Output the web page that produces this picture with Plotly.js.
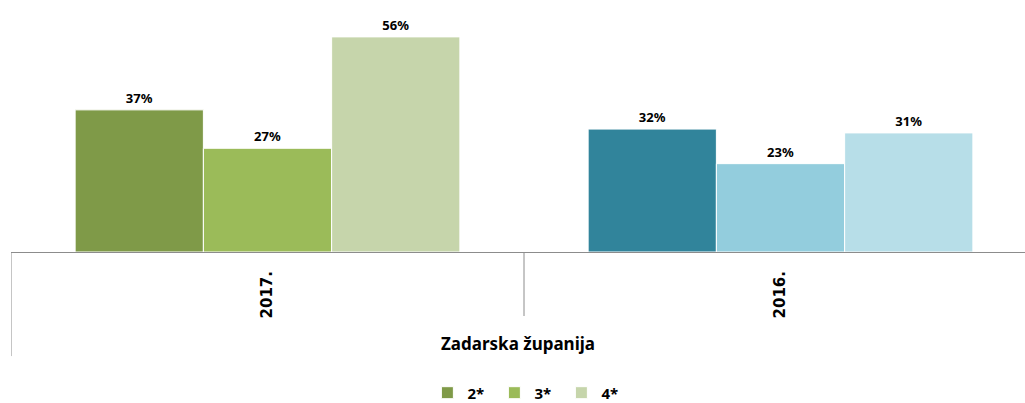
<!DOCTYPE html>
<html>
<head>
<meta charset="utf-8">
<script src="https://cdn.plot.ly/plotly-3.0.1.min.js"></script>
<style>html,body{margin:0;padding:0;background:#fff;}#chart{width:1025px;height:403px;}</style>
</head>
<body>
<div id="chart"></div>
<script>
// ---- data ----
const years = ['2017.', '2016.'];
const region = 'Zadarska županija';
const seriesNames = ['2*', '3*', '4*'];
const s2 = [37, 32];
const s3 = [27, 23];
const s4 = [56, 31];

// ---- styles ----
const colors2 = ['#7F9A48', '#31849B'];
const colors3 = ['#9BBB59', '#93CDDD'];
const colors4 = ['#C6D5AB', '#B7DEE8'];

const labelFont = {family: 'Noto Sans, Open Sans, sans-serif', size: 13, color: '#000', weight: 'bold'};

function mk(name, vals, cols) {
  return {
    type: 'bar', name: name, x: years, y: vals,
    marker: {color: cols, line: {color: '#ffffff', width: 1}},
    text: vals.map(v => v + '%'), textposition: 'outside',
    textfont: labelFont, cliponaxis: false, hoverinfo: 'skip'
  };
}
const data = [mk(seriesNames[0], s2, colors2), mk(seriesNames[1], s3, colors3), mk(seriesNames[2], s4, colors4)];

const layout = {
  width: 1025, height: 403,
  margin: {l: 11, r: 0, t: 0, b: 151},
  paper_bgcolor: '#fff', plot_bgcolor: '#fff',
  barmode: 'group', bargap: 0.25, bargroupgap: 0,
  showlegend: true,
  legend: {orientation: 'h', xref: 'container', x: 0.515, xanchor: 'center', yref: 'container', y: 0.025, yanchor: 'middle',
           font: {family: 'Noto Sans, sans-serif', size: 15, color: '#000', weight: 'bold'}, itemwidth: 30,
           entrywidth: 22, entrywidthmode: 'pixels', traceorder: 'normal'},
  xaxis: {
    type: 'category', range: [-0.5, 1.4766], showline: true, linecolor: '#8c8c8c', linewidth: 1,
    ticks: '', tickangle: -90, ticklabelstandoff: 12,
    tickfont: {family: 'DejaVu Sans, sans-serif', size: 15, color: '#000', weight: 'bold'},
    showgrid: false, zeroline: false, automargin: false,
    title: {text: region, standoff: 20, font: {family: 'Noto Sans, sans-serif', size: 17, color: '#000', weight: 'bold'}}
  },
  yaxis: {range: [0, 65.6], visible: false, showgrid: false, zeroline: false, fixedrange: true},
  shapes: [
    {type: 'line', xref: 'x', yref: 'paper', x0: -0.5, x1: -0.5, y0: 0, y1: -0.413, line: {color: '#8c8c8c', width: 1}},
    {type: 'line', xref: 'x', yref: 'paper', x0: 0.5, x1: 0.5, y0: 0, y1: -0.254, line: {color: '#8c8c8c', width: 1}}
  ]
};
Plotly.newPlot('chart', data, layout, {displayModeBar: false, staticPlot: true});
</script>
</body>
</html>
